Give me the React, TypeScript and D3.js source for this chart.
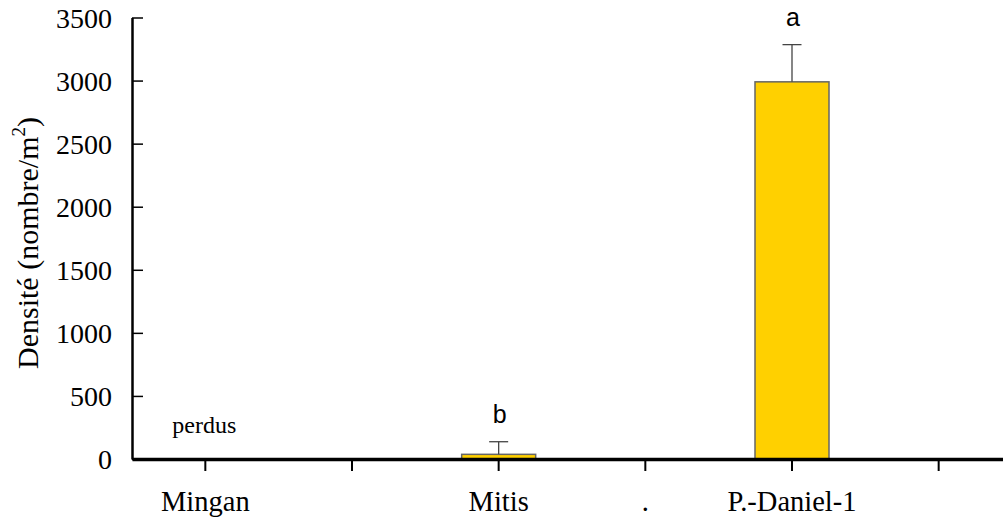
import React, { useEffect, useRef } from 'react'
import * as d3 from 'd3'

// six slots on the x axis, only three of them are sites
const slots = ['Mingan', 's1', 'Mitis', 's3', 'P.-Daniel-1', 's5']
const slotLabels = ['Mingan', '', 'Mitis', '.', 'P.-Daniel-1', '']
const sites = ['Mitis', 'P.-Daniel-1']
const densities = [37, 2990]
const errors = [100, 295]
const letters = ['b', 'a']
const yTicks = [0, 500, 1000, 1500, 2000, 2500, 3000, 3500]

const App = () => {
  const ref = useRef(null)

  useEffect(() => {
    draw()
  }, [])

  const draw = () => {
    const width = 1003
    const height = 521
    d3.select(ref.current).selectAll('*').remove()
    const svg = d3.select(ref.current).append('svg')
      .attr('width', width)
      .attr('height', height)
      .style('position', 'absolute')
      .style('left', 0)
      .style('top', 0)

    const x = d3.scaleBand()
      .domain(slots)
      .range([132, 1012])
      .padding(0)

    const y = d3.scaleLinear()
      .domain([0, 3500])
      .range([459, 17.5])

    const barW = 74
    const serif = 'Liberation Serif, Times New Roman, Times, serif'
    const sans = 'Liberation Sans, Arial, Helvetica, sans-serif'

    // bars
    const g = svg.append('g')
    sites.forEach((s, i) => {
      const cx = x(s) + x.bandwidth() / 2
      g.append('rect')
        .attr('x', cx - barW / 2)
        .attr('y', y(densities[i]))
        .attr('width', barW)
        .attr('height', y(0) - y(densities[i]))
        .attr('fill', '#ffd000')
        .attr('stroke', '#666')
        .attr('stroke-width', 1.5)

      const top = y(densities[i] + errors[i])
      g.append('line')
        .attr('x1', cx).attr('x2', cx)
        .attr('y1', y(densities[i])).attr('y2', top)
        .attr('stroke', '#444').attr('stroke-width', 1.3)
      g.append('line')
        .attr('x1', cx - 9.5).attr('x2', cx + 9.5)
        .attr('y1', top).attr('y2', top)
        .attr('stroke', '#444').attr('stroke-width', 1.3)

      g.append('text')
        .attr('x', cx + 1)
        .attr('y', top - 19)
        .attr('text-anchor', 'middle')
        .style('font-family', sans)
        .style('font-size', '25px')
        .attr('fill', '#000')
        .text(letters[i])
    })

    // lost samples at Mingan
    svg.append('text')
      .attr('x', x('Mingan') + x.bandwidth() / 2 - 1)
      .attr('y', 433)
      .attr('text-anchor', 'middle')
      .style('font-family', serif)
      .style('font-size', '24px')
      .text('perdus')

    // y axis
    const yAxis = svg.append('g')
      .attr('transform', 'translate(132,0)')
      .call(d3.axisLeft(y).tickValues(yTicks).tickFormat(d3.format('d')).tickSize(-11).tickSizeOuter(0).tickPadding(20))
    yAxis.select('.domain').attr('stroke', '#000').attr('stroke-width', 2.5)
    yAxis.selectAll('.tick line').attr('stroke', '#000').attr('stroke-width', 1.5)
    yAxis.selectAll('.tick text')
      .style('font-family', serif)
      .style('font-size', '28px')
      .attr('fill', '#000')
      .attr('dy', '0.34em')

    // x axis
    const xAxis = svg.append('g')
      .attr('transform', 'translate(0,459)')
      .call(d3.axisBottom(x).tickFormat((d, i) => slotLabels[i]).tickSize(12).tickSizeOuter(0).tickPadding(20))
    xAxis.select('.domain').attr('stroke', '#000').attr('stroke-width', 3.3)
    xAxis.selectAll('.tick line').attr('stroke', '#000').attr('stroke-width', 2)
    xAxis.selectAll('.tick text')
      .style('font-family', serif)
      .style('font-size', '28.5px')
      .attr('fill', '#000')

    // y title
    const title = svg.append('text')
      .attr('transform', 'translate(38,243) rotate(-90)')
      .attr('text-anchor', 'middle')
      .style('font-family', serif)
      .style('font-size', '30px')
      .attr('fill', '#000')
    title.append('tspan').text('Densité (nombre/m')
    title.append('tspan').style('font-size', '19px').attr('dy', -13).text('2')
    title.append('tspan').attr('dy', 13).text(')')
  }

  return (
    <div ref={ref}></div>
  )
}

export default App
